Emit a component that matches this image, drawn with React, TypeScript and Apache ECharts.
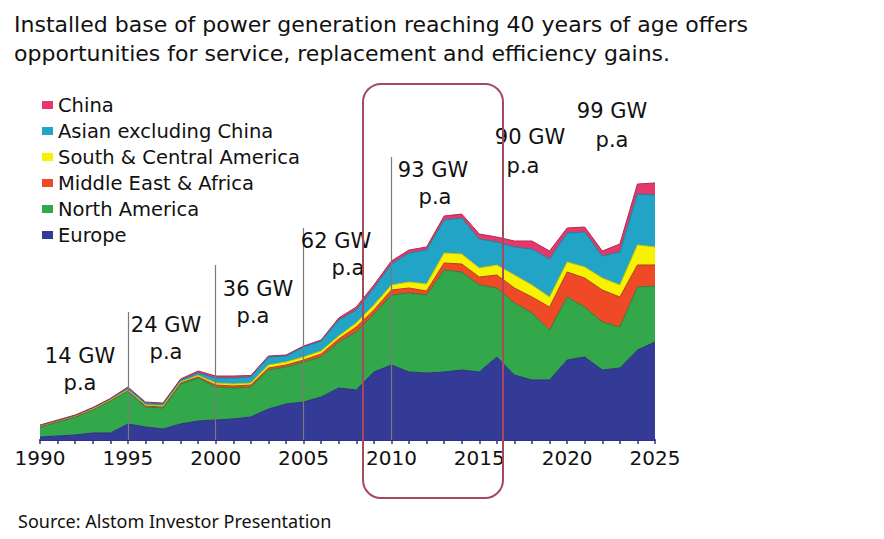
import React, { useEffect, useRef } from "react";
import * as echarts from "echarts";

const years = ["1990","1991","1992","1993","1994","1995","1996","1997","1998","1999","2000","2001","2002","2003","2004","2005","2006","2007","2008","2009","2010","2011","2012","2013","2014","2015","2016","2017","2018","2019","2020","2021","2022","2023","2024","2025"];
const europe = [3,4,5,7,7,16,13,11,16,19,20,21,23,31,36,38,43,52,50,68,75,68,67,68,70,68,83,65,60,60,80,83,70,72,90,98];
const northAmerica = [10,14,18,23,32,33,20,21,40,43,33,31,30,39,37,40,40,46,58,58,70,79,78,102,98,87,69,72,67,50,63,50,48,41,63,56];
const middleEastAfrica = [0.5,0.5,0.5,0.5,0.5,0.5,1,1,1,1,2,2,2,2,2,2,3,3,5,4,5,5,4,7,8,8,13,15,16,23,25,29,32,30,22,21];
const southCentralAmerica = [0.5,0.5,0.5,0.5,0.5,0.5,1,1,1,1.5,2,2,2,3,3,3,3,3,4,5,5,6,7,10,10,9,10,13,12,10,10,11,12,12,20,18];
const asiaExChina = [0.5,0.5,0.5,1,1,2,2,2,2,2.5,5,6,6,8,6,10,10,16,13,17,21,29,34,33,36,29,23,28,36,38,29,35,22,33,51,52];
const china = [0.5,0.5,0.5,0.5,0.5,1,1,1,1,2,2,2,1.5,1,1,1,1,2,3,3,3,3,3,4,4,5,5,6,8,8,5,5,5,8,10,12];

const seriesNames = ["Europe","North America","Middle East & Africa","South & Central America","Asian excluding China","China"];
const legendOrder = ["China","Asian excluding China","South & Central America","Middle East & Africa","North America","Europe"];
const colors = ["#343b97","#33a84b","#ef4a25","#f7f200","#22a4c6","#e5386b"];
const edgeColors = ["#2a2f7a","#2a7e3c","#b23a22","#c9c400","#1a7f9a","#b02a55"];

const periodYears = ["1995","2000","2005","2010","2015","2020","2025"];
const periodLineTops = [128,175,212,283,303,318,317];
const gwLabels = ["14 GW","24 GW","36 GW","62 GW","93 GW","90 GW","99 GW"];

const titleLines = [
  "Installed base of power generation reaching 40 years of age offers",
  "opportunities for service, replacement and efficiency gains.",
];
const sourceText = "Source: Alstom Investor Presentation";

export default function App() {
  const ref = useRef<HTMLDivElement>(null);
  useEffect(() => {
    if (!ref.current) return;
    const chart = echarts.init(ref.current, null, { renderer: "svg" });
    const values = [europe, northAmerica, middleEastAfrica, southCentralAmerica, asiaExChina, china];
    const series: any[] = seriesNames.map((name, i) => ({
      name,
      type: "line",
      stack: "total",
      symbol: "none",
      data: values[i],
      lineStyle: { width: 1, color: edgeColors[i] },
      itemStyle: { color: colors[i] },
      areaStyle: { color: colors[i], opacity: 1 },
      z: 2,
    }));
    series[series.length - 1].markLine = {
      silent: true,
      symbol: "none",
      label: { show: false },
      lineStyle: { color: "#7a7a7a", width: 1.2, type: "solid" },
      data: periodYears.map((y, i) => [
        { coord: [y, 0] },
        { coord: [y, periodLineTops[i]] },
      ]),
    };

    const gwPos = [
      [80, 356, 80, 383],
      [166, 325, 166, 352],
      [258, 289, 253, 316],
      [336, 241, 348, 268],
      [433, 170, 435, 197],
      [530, 137, 523, 166],
      [612, 111, 612, 140],
    ];
    const gwFont = '21px "DejaVu Sans"';
    const gwGraphics: any[] = [];
    gwLabels.forEach((t, i) => {
      const p = gwPos[i];
      gwGraphics.push({
        type: "text", x: p[0], y: p[1], z: 110,
        style: { text: t, font: gwFont, fill: "#111", textAlign: "center", textVerticalAlign: "middle", align: "center", verticalAlign: "middle" },
      });
      gwGraphics.push({
        type: "text", x: p[2], y: p[3], z: 110,
        style: { text: "p.a", font: gwFont, fill: "#111", textAlign: "center", textVerticalAlign: "middle", align: "center", verticalAlign: "middle" },
      });
    });

    chart.setOption({
      animation: false,
      backgroundColor: "#ffffff",
      color: colors,
      grid: { left: 40, right: 229, top: 140, bottom: 99, containLabel: false },
      xAxis: {
        type: "category",
        data: years,
        boundaryGap: false,
        axisLine: { show: true, lineStyle: { color: "#2b3388", width: 2 } },
        axisTick: { show: true, interval: 0, length: 4, lineStyle: { color: "#2b3388", width: 1.5 } },
        splitLine: { show: false },
        axisLabel: {
          margin: 8,
          fontSize: 20,
          fontFamily: "DejaVu Sans",
          color: "#111",
          interval: 0,
          formatter: (v: string) => (Number(v) % 5 === 0 ? v : ""),
        },
      },
      yAxis: {
        type: "value",
        min: 0,
        max: 300,
        show: false,
      },
      legend: {
        orient: "vertical",
        left: 37,
        top: 90,
        data: legendOrder,
        icon: "rect",
        itemWidth: 11,
        itemHeight: 8,
        itemGap: 6,
        textStyle: { fontSize: 19.5, lineHeight: 20, fontFamily: "DejaVu Sans", color: "#111" },
      },
      series,
      graphic: [
        {
          type: "text", x: 14, y: 24, z: 120,
          style: { text: titleLines[0], font: '22px "DejaVu Sans"', fill: "#111", textVerticalAlign: "middle", verticalAlign: "middle" },
        },
        {
          type: "text", x: 14, y: 53, z: 120,
          style: { text: titleLines[1], font: '22px "DejaVu Sans"', fill: "#111", textVerticalAlign: "middle", verticalAlign: "middle" },
        },
        {
          type: "text", x: 18, y: 521, z: 120,
          style: { text: sourceText, font: '18px "Noto Sans"', fill: "#111", textVerticalAlign: "middle", verticalAlign: "middle" },
        },
        ...gwGraphics,
        {
          type: "rect", z: 130,
          shape: { x: 363, y: 84, width: 140, height: 414, r: 18 },
          style: { fill: "none", stroke: "#a34a5c", lineWidth: 2 },
        },
      ],
    });
    return () => chart.dispose();
  }, []);
  return (
    <div
      ref={ref}
      style={{ position: "fixed", left: 0, top: 0, width: 884, height: 539, background: "#fff" }}
    />
  );
}
